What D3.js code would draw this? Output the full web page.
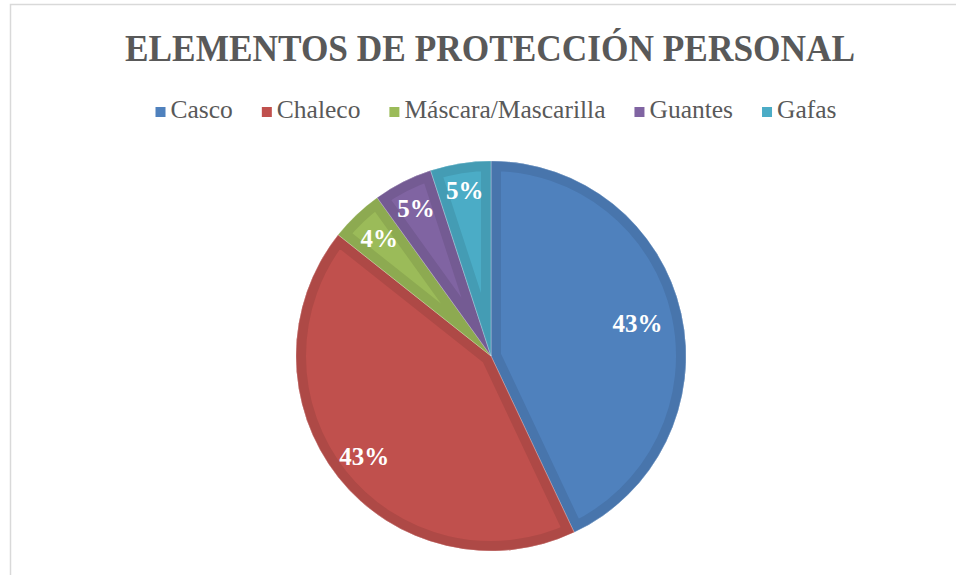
<!DOCTYPE html>
<html>
<head>
<meta charset="utf-8">
<script src="https://cdn.jsdelivr.net/npm/d3@7"></script>
<style>
  body { margin: 0; background: #fff; }
  #chart-container { width: 956px; height: 575px; }
</style>
</head>
<body>
<div id="chart-container"></div>
<script>
// Chart data.
const categories = ["Casco", "Chaleco", "Máscara/Mascarilla", "Guantes", "Gafas"];
const values = [42.9, 42.6, 4.4, 4.9, 5.0];
const colors = ["#4F81BD", "#C0504D", "#9BBB59", "#8064A2", "#4BACC6"];
const title = "ELEMENTOS DE PROTECCIÓN PERSONAL";

// Where each label sits: fraction along its slice and fraction of the radius.
const labelPlacement = [
    { t: 0.5, k: 0.77 },
    { t: 0.5, k: 0.83 },
    { t: 0.5, k: 0.83 },
    { t: 0.5, k: 0.85 },
    { t: 0.5, k: 0.86 }
];

const width = 956;
const height = 575;
const cx = 491;
const cy = 356;
const radius = 195;
const band = 10;

const svg = d3.select("#chart-container").append("svg")
    .attr("width", width)
    .attr("height", height)
    .style("display", "block");

// Chart frame (only top and left edges are visible).
svg.append("rect")
    .attr("x", 10.5)
    .attr("y", 4.5)
    .attr("width", width)
    .attr("height", height)
    .attr("fill", "#fff")
    .attr("stroke", "#d9d9d9")
    .attr("stroke-width", 1.5);

// Title.
svg.append("text")
    .attr("x", 490)
    .attr("y", 61)
    .attr("text-anchor", "middle")
    .attr("textLength", 730)
    .attr("lengthAdjust", "spacingAndGlyphs")
    .style("font-family", "'Liberation Serif', serif")
    .style("font-weight", "bold")
    .style("font-size", "38px")
    .style("fill", "#595959")
    .text(title);

// Legend, laid out from measured text widths and centred.
const legend = svg.append("g");
const items = legend.selectAll("g")
    .data(categories)
    .join("g");

items.append("rect")
    .attr("width", 10)
    .attr("height", 10)
    .attr("y", -11)
    .attr("fill", (d, i) => colors[i]);

items.append("text")
    .attr("x", 15)
    .attr("y", 0)
    .style("font-family", "'Liberation Serif', serif")
    .style("font-size", "25.5px")
    .style("fill", "#595959")
    .text(d => d);

let xpos = 0;
const gap = 29;
items.each(function () {
    const w = d3.select(this).select("text").node().getComputedTextLength() + 15;
    d3.select(this).attr("transform", `translate(${xpos},0)`);
    xpos += w + gap;
});
const legendWidth = xpos - gap;
legend.attr("transform", `translate(${496 - legendWidth / 2},118)`);

// Pie.
const pie = d3.pie().sort(null).value(d => d);
const arcs = pie(values);
const arc = d3.arc().innerRadius(0).outerRadius(radius);
const total = d3.sum(values);

const g = svg.append("g").attr("transform", `translate(${cx},${cy})`);
const defs = svg.append("defs");

arcs.forEach((a, i) => {
    defs.append("clipPath")
        .attr("id", "clip" + i)
        .append("path")
        .attr("d", arc(a));
});

const slice = g.selectAll("g.slice")
    .data(arcs)
    .join("g")
    .attr("class", "slice");

slice.append("path")
    .attr("d", arc)
    .attr("fill", (d, i) => colors[i]);

// Darker inner band along each slice's edge.
slice.append("path")
    .attr("d", arc)
    .attr("fill", "none")
    .attr("clip-path", (d, i) => `url(#clip${i})`)
    .attr("stroke", (d, i) => d3.color(colors[i]).darker(0.27))
    .attr("stroke-width", band * 2)
    .attr("stroke-linejoin", "miter");

slice.append("path")
    .attr("d", arc)
    .attr("fill", "none")
    .attr("stroke", "#fff")
    .attr("stroke-opacity", 0.35)
    .attr("stroke-width", 0.8);

// Percentage labels.
g.selectAll("text.label")
    .data(arcs)
    .join("text")
    .attr("class", "label")
    .attr("x", (d, i) => {
        const p = labelPlacement[i];
        const ang = d.startAngle + p.t * (d.endAngle - d.startAngle);
        return Math.sin(ang) * p.k * radius;
    })
    .attr("y", (d, i) => {
        const p = labelPlacement[i];
        const ang = d.startAngle + p.t * (d.endAngle - d.startAngle);
        return -Math.cos(ang) * p.k * radius;
    })
    .attr("text-anchor", "middle")
    .attr("dominant-baseline", "central")
    .style("font-family", "'Liberation Serif', serif")
    .style("font-weight", "bold")
    .style("font-size", "25px")
    .style("fill", "#fff")
    .text(d => Math.round(d.value / total * 100) + "%");
</script>
</body>
</html>
